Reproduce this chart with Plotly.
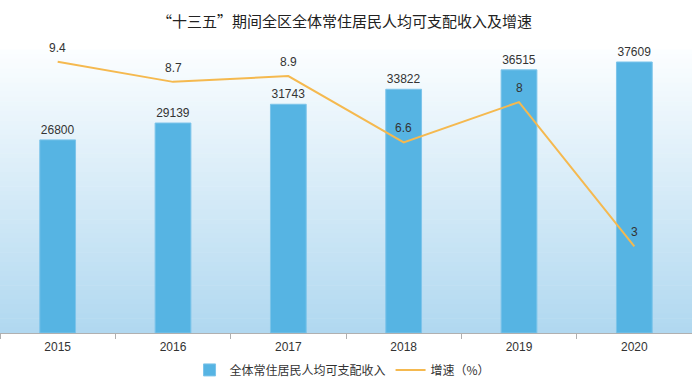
import plotly.graph_objects as go

years = ["2015", "2016", "2017", "2018", "2019", "2020"]
income = [26800, 29139, 31743, 33822, 36515, 37609]
growth = [9.4, 8.7, 8.9, 6.6, 8, 3]

bar_name = "全体常住居民人均可支配收入"
line_name = "增速（%）"
title_text = "“十三五”期间全区全体常住居民人均可支配收入及增速"

W, H = 692, 389
mt, mb = 40, 56

fig = go.Figure()
fig.add_trace(go.Bar(
    x=years, y=income, name=bar_name,
    marker=dict(color="#56b4e3", line=dict(color="#7cc4ea", width=1)),
    text=[str(v) for v in income], textposition="outside",
    textfont=dict(size=12, color="#333333"),
    cliponaxis=False,
))
fig.add_trace(go.Scatter(
    x=years, y=growth, name=line_name, yaxis="y2",
    mode="lines", line=dict(color="#f5b94f", width=2),
    cliponaxis=False,
))

# line labels: category index positions on the categorical x axis
annotations = [
    dict(x=i, y=g, xref="x", yref="y2", text=str(g), showarrow=False,
         yanchor="middle", yshift=14, font=dict(size=12, color="#333333"))
    for i, g in enumerate(growth)
]

# background gradient (white -> light blue)
shapes = []
n = 60
top = 0.966
c0 = (252, 254, 255)
c1 = (176, 216, 240)
for i in range(n):
    t = (i + 0.5) / n
    col = tuple(int(round(c0[k] + (c1[k] - c0[k]) * t)) for k in range(3))
    y_hi = top - top * i / n
    y_lo = top - top * (i + 1) / n
    shapes.append(dict(type="rect", xref="paper", yref="paper",
                       x0=0, x1=1, y0=y_lo, y1=y_hi + 0.002,
                       fillcolor="rgb(%d,%d,%d)" % col, line=dict(width=0),
                       layer="below"))

fig.update_layout(
    width=W, height=H,
    margin=dict(l=0, r=0, t=mt, b=mb, autoexpand=False),
    paper_bgcolor="white", plot_bgcolor="white",
    font=dict(family="Liberation Sans, Noto Sans CJK SC, sans-serif", size=12, color="#333333"),
    title=dict(text=title_text, x=0.498, xanchor="center", y=1 - 22 / H, yanchor="middle",
               font=dict(size=15, color="#222222", family="Noto Sans CJK SC, sans-serif")),
    bargap=0.69,
    showlegend=True,
    legend=dict(orientation="h", x=0.495, xanchor="center", y=-0.126, yanchor="middle",
                font=dict(size=12, family="Noto Sans CJK SC, sans-serif", color="#333333"),
                itemwidth=30, bgcolor="rgba(0,0,0,0)"),
    xaxis=dict(type="category", categoryorder="array", categoryarray=years,
               range=[-0.5, len(years) - 0.5],
               showgrid=False, showline=True, linecolor="#b0b0b0", linewidth=1,
               ticks="outside", tickson="boundaries", ticklen=5, tickcolor="#b0b0b0",
               ticklabelstandoff=3,
               tickfont=dict(size=12, color="#333333"), fixedrange=True, automargin=False),
    yaxis=dict(range=[0, 40660], visible=False, showgrid=False, zeroline=False, automargin=False),
    yaxis2=dict(range=[0, 10.15], overlaying="y", side="right", visible=False,
                showgrid=False, zeroline=False, automargin=False),
    shapes=shapes,
    annotations=annotations,
)

fig.write_html("out.html", config={"displayModeBar": False},
               post_script="document.body.style.margin='0px';")
